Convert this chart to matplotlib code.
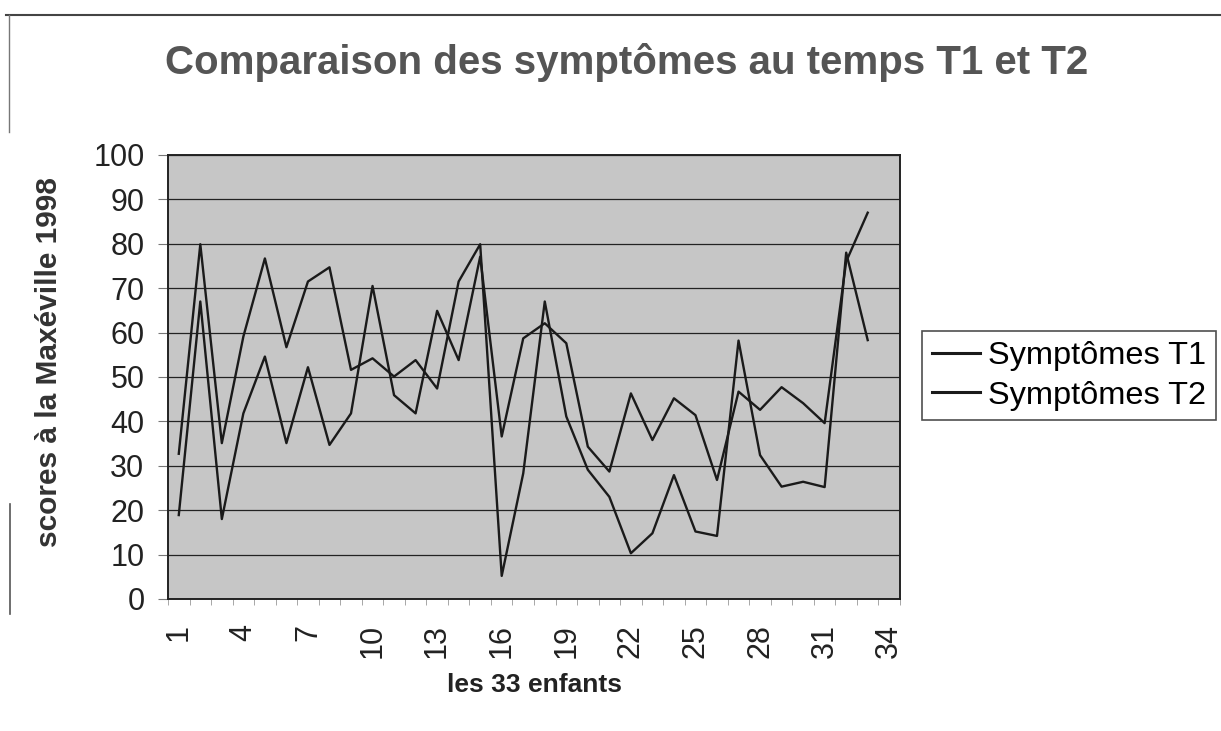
import matplotlib.pyplot as plt
from matplotlib.lines import Line2D

plt.rcParams['font.family'] = ['Liberation Sans', 'DejaVu Sans']

# Data
enfants = list(range(1, 34))
symptomes_t1 = [32.7, 79.9, 35.1, 59.1, 76.7, 56.7, 71.5, 74.7, 51.6,
                54.2, 50.1, 53.8, 47.4, 71.5, 79.9, 5.2, 28.3, 67.0,
                41.1, 29.1, 23.0, 10.3, 14.8, 27.9, 15.2, 14.2, 58.2,
                32.4, 25.3, 26.4, 25.2, 78.0, 58.3]
symptomes_t2 = [18.9, 67.0, 18.0, 41.8, 54.6, 35.1, 52.2, 34.7, 41.8,
                70.5, 45.9, 41.8, 64.9, 53.8, 77.1, 36.6, 58.7, 62.1,
                57.6, 34.3, 28.7, 46.3, 35.8, 45.2, 41.4, 26.8, 46.7,
                42.6, 47.7, 44.1, 39.6, 76.0, 87.0]
x_labels = list(range(1, 35, 3))
y_ticks = list(range(0, 101, 10))

fig = plt.figure(figsize=(12.21, 7.31), dpi=100)
ax = fig.add_axes([0.1376, 0.1806, 0.5995, 0.6074])
ax.set_facecolor('#c6c6c6')

ax.plot(enfants, symptomes_t1, color='#1a1a1a', lw=1.7, label='Symptômes T1')
ax.plot(enfants, symptomes_t2, color='#1a1a1a', lw=1.7, label='Symptômes T2')

ax.set_xlim(0.5, 34.5)
ax.set_ylim(0, 100)
ax.set_yticks(y_ticks)
ax.yaxis.grid(True, color='#222222', lw=0.9)
ax.set_axisbelow(True)

ax.set_xticks(x_labels)
ax.set_xticklabels([str(v) for v in x_labels], rotation=90, fontsize=22,
                   color='#222222')
ax.set_xticks([v + 0.5 for v in range(0, 35)], minor=True)
ax.tick_params(axis='x', which='major', length=0, pad=18)
ax.tick_params(axis='x', which='minor', length=4, color='#999999')
ax.tick_params(axis='y', labelsize=22, length=7, color='#777777',
               labelcolor='#222222', pad=10)
for s in ax.spines.values():
    s.set_color('#222222')
    s.set_linewidth(1.4)

ax.set_xlabel('les 33 enfants', fontsize=19, fontweight='bold',
              color='#222222')
ax.xaxis.set_label_coords(0.5, -0.167)
ax.set_ylabel('scores à la Maxéville 1998', fontsize=21.5, fontweight='bold',
              color='#333333')
ax.yaxis.set_label_coords(-0.143, 0.534)
fig.text(0.513, 0.915, 'Comparaison des symptômes au temps T1 et T2',
         ha='center', va='center', fontsize=29, fontweight='bold',
         color='#555555')

leg = fig.legend(loc='upper left', bbox_to_anchor=(0.755, 0.547),
                 fontsize=23.4, frameon=True, fancybox=False,
                 edgecolor='#222222', handlelength=1.5, handletextpad=0.25,
                 borderpad=0.3, labelspacing=0.3, borderaxespad=0)
leg.get_frame().set_linewidth(1.2)
for h in leg.get_lines():
    h.set_linewidth(2.2)

# Outer chart border (scan remnants)
fig.add_artist(Line2D([0.005, 1.0], [0.98, 0.98], color='#444444', lw=1.5))
fig.add_artist(Line2D([0.007, 0.007], [0.98, 0.82], color='#777777', lw=1.0))
fig.add_artist(Line2D([0.008, 0.008], [0.31, 0.16], color='#555555', lw=1.2))

fig.savefig('out.png', dpi=100)
